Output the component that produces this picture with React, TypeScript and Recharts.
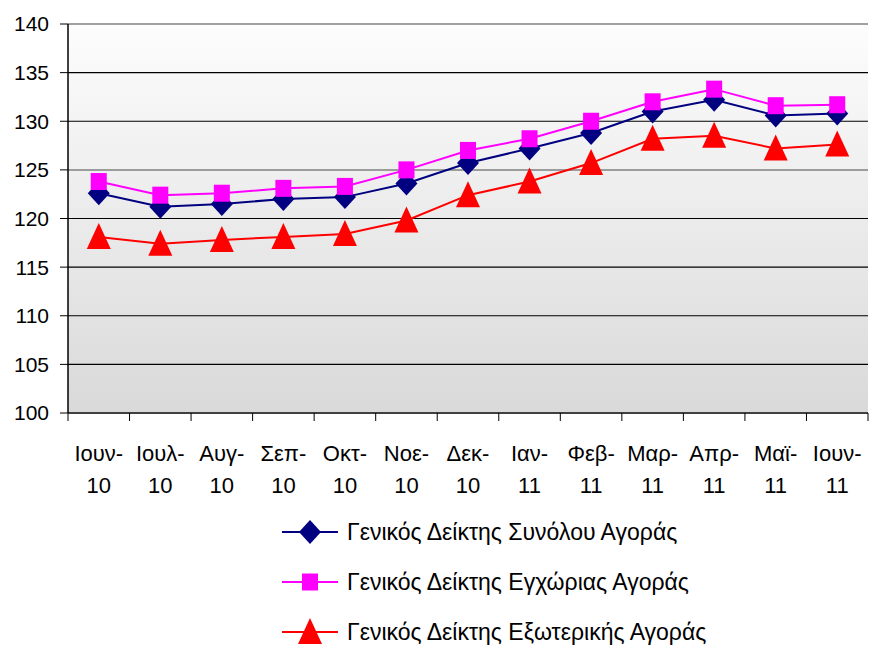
import React from 'react';
import { LineChart, Line, XAxis, YAxis, CartesianGrid, ReferenceLine, Legend } from 'recharts';

const months = ['Ιουν-10', 'Ιουλ-10', 'Αυγ-10', 'Σεπ-10', 'Οκτ-10', 'Νοε-10', 'Δεκ-10', 'Ιαν-11', 'Φεβ-11', 'Μαρ-11', 'Απρ-11', 'Μαϊ-11', 'Ιουν-11'];
const totalMarket = [122.6, 121.2, 121.5, 122.0, 122.2, 123.6, 125.7, 127.2, 128.8, 131.0, 132.2, 130.6, 130.8];
const domesticMarket = [123.8, 122.4, 122.6, 123.1, 123.3, 125.0, 127.0, 128.2, 130.0, 132.0, 133.3, 131.6, 131.7];
const externalMarket = [118.1, 117.4, 117.8, 118.1, 118.4, 119.8, 122.4, 123.8, 125.7, 128.2, 128.5, 127.2, 127.6];
const yTicks = [100, 105, 110, 115, 120, 125, 130, 135, 140];
// label ticks at the month centres, tick marks at the boundaries between months
const xTicks = [-0.5, ...months.flatMap((_, i) => [i, i + 0.5])];

const seriesNames = [
  'Γενικός Δείκτης Συνόλου Αγοράς',
  'Γενικός Δείκτης Εγχώριας Αγοράς',
  'Γενικός Δείκτης Εξωτερικής Αγοράς',
];
const colors = ['#000080', '#ff00ff', '#ff0000'];

const data = months.map((m, i) => ({
  i,
  month: m,
  total: totalMarket[i],
  domestic: domesticMarket[i],
  external: externalMarket[i],
}));

const FONT = '"Liberation Sans", Arial, sans-serif';

const Diamond = ({ cx, cy, color }: any) =>
  cx == null ? null : <polygon points={`${cx},${cy - 12} ${cx + 11},${cy} ${cx},${cy + 12} ${cx - 11},${cy}`} fill={color} />;
const Square = ({ cx, cy, color }: any) =>
  cx == null ? null : <rect x={cx - 8} y={cy - 8.5} width={16} height={17} fill={color} />;
const Triangle = ({ cx, cy, color }: any) =>
  cx == null ? null : <polygon points={`${cx},${cy - 14} ${cx + 12},${cy + 12} ${cx - 12},${cy + 12}`} fill={color} />;

const shapes = [Diamond, Square, Triangle];

const MonthTick = ({ x, y, payload }: any) => {
  const v = payload.value;
  if (!Number.isInteger(v)) {
    return <line x1={x} x2={x} y1={y} y2={y + 8} stroke="#000" strokeWidth={1} />;
  }
  const [name, yr] = months[v].split('-');
  return (
    <text x={x} y={y} textAnchor="middle" fontSize={22} fontFamily={FONT} fill="#000">
      <tspan x={x} dy={48}>{name}-</tspan>
      <tspan x={x} dy={32}>{yr}</tspan>
    </text>
  );
};

const LegendBox = () => (
  <div style={{ position: 'relative', width: 870, height: 143, fontFamily: FONT }}>
    {seriesNames.map((name, k) => {
      const Shape = shapes[k];
      return (
        <div key={name} style={{ position: 'absolute', left: 282, top: 16 + k * 50, height: 26, display: 'flex', alignItems: 'center' }}>
          <svg width={58} height={28}>
            <line x1={0} y1={14} x2={56} y2={14} stroke={colors[k]} strokeWidth={2} />
            <Shape cx={28} cy={14} color={colors[k]} />
          </svg>
          <span style={{ marginLeft: 7, fontSize: 23, color: '#000', whiteSpace: 'nowrap' }}>{name}</span>
        </div>
      );
    })}
  </div>
);

export default function App() {
  return (
    <div style={{ width: 870, height: 646, background: '#fff' }}>
      <style>{'body{margin:0}'}</style>
      <LineChart width={870} height={646} data={data} margin={{ top: 24, right: 2, left: 0, bottom: 0 }}>
        <defs>
          <linearGradient id="bg" x1="0" y1="0" x2="0" y2="1">
            <stop offset="0%" stopColor="#fdfdfd" />
            <stop offset="100%" stopColor="#d9d9d9" />
          </linearGradient>
        </defs>
        <CartesianGrid
          vertical={false}
          fill="url(#bg)"
          stroke="#000"
          strokeWidth={1.2}
          horizontalValues={[105, 110, 115, 120, 130, 135]}
        />
        <ReferenceLine y={125} stroke="#808080" strokeWidth={1.5} />
        <ReferenceLine y={140} stroke="#808080" strokeWidth={1.5} />
        <XAxis
          dataKey="i"
          type="number"
          domain={[-0.5, months.length - 0.5]}
          ticks={xTicks}
          interval={0}
          tick={<MonthTick />}
          tickLine={false}
          tickSize={0}
          tickMargin={0}
          axisLine={{ stroke: '#404040', strokeWidth: 2 }}
          height={90}
        />
        <YAxis
          domain={[100, 140]}
          ticks={yTicks}
          interval={0}
          width={68}
          tickSize={8}
          tickMargin={11}
          tick={{ fontSize: 21, fontFamily: FONT, fill: '#000' }}
          tickLine={{ stroke: '#000' }}
          axisLine={{ stroke: '#000', strokeWidth: 1.5 }}
        />
        <Legend verticalAlign="bottom" height={143} content={<LegendBox />} wrapperStyle={{ left: 0, width: 870 }} />
        <Line dataKey="total" name={seriesNames[0]} stroke={colors[0]} strokeWidth={2} dot={<Diamond color={colors[0]} />} activeDot={false} isAnimationActive={false} />
        <Line dataKey="domestic" name={seriesNames[1]} stroke={colors[1]} strokeWidth={2} dot={<Square color={colors[1]} />} activeDot={false} isAnimationActive={false} />
        <Line dataKey="external" name={seriesNames[2]} stroke={colors[2]} strokeWidth={2} dot={<Triangle color={colors[2]} />} activeDot={false} isAnimationActive={false} />
      </LineChart>
    </div>
  );
}
